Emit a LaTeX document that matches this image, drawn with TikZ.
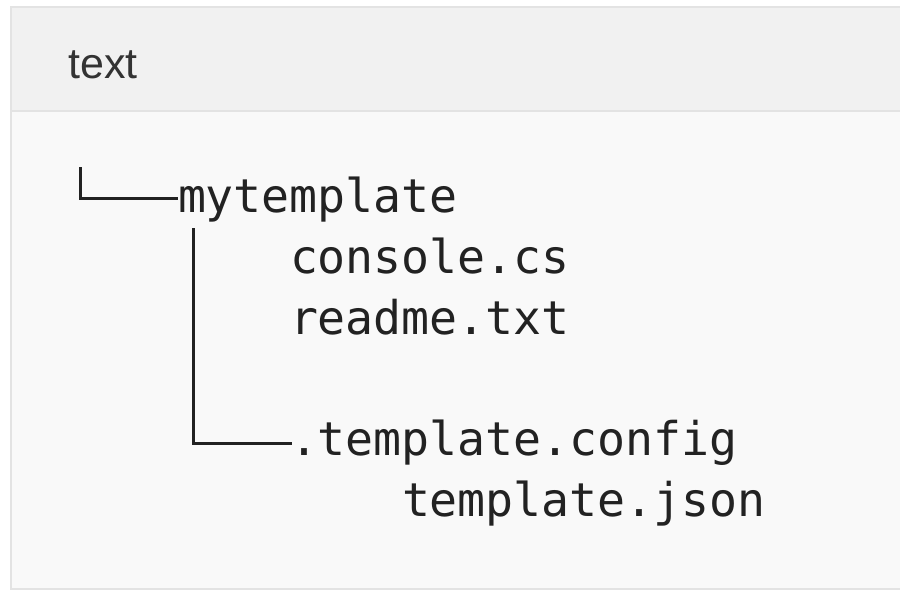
\documentclass[tikz,border=0pt]{standalone}
\usepackage{fontspec}
\setmainfont{Liberation Sans}
\newfontfamily\codefont{DejaVu Sans Mono}
\definecolor{headbg}{HTML}{F1F1F1}
\definecolor{bodybg}{HTML}{F9F9F9}
\definecolor{frame}{HTML}{E3E3E3}
\definecolor{ink}{HTML}{222222}
\definecolor{headink}{HTML}{333333}
\tikzset{
  entry/.style={anchor=base west, inner sep=0pt, outer sep=0pt, text=ink,
    font=\codefont\fontsize{46.5}{56}\selectfont},
  branch/.style={draw=ink, line width=3pt, line cap=butt, line join=miter},
}
\begin{document}
\begin{tikzpicture}[x=1pt,y=-1pt]
\useasboundingbox (0,0) rectangle (900,590);
\fill[white] (0,0) rectangle (900,590);
\begin{scope}
\clip (0,0) rectangle (900,590);
\fill[bodybg] (11,7) rectangle (910,589);
\fill[headbg] (11,7) rectangle (910,111);
\draw[frame, line width=1.5pt] (910,7) -- (11,7) -- (11,589) -- (910,589);
\draw[frame, line width=1.5pt] (11,111) -- (910,111);
\end{scope}
\node[anchor=base west, inner sep=0pt, text=headink,
  font=\fontsize{43}{50}\selectfont] (lang) at (68,78) {text};
% tree entries
\node[entry] (root) at (178,212) {mytemplate};
\node[entry] (console) at (290,273) {console.cs};
\node[entry] (readme) at (290,334) {readme.txt};
\node[entry] (config) at (290,455) {.template.config};
\node[entry] (json) at (402,516) {template.json};
% connectors
\coordinate (top) at (80,167);
\coordinate (rootcorner) at (80,198);
\coordinate (trunk) at (193,228);
\coordinate (subcorner) at (193,443);
\draw[branch] (top) -- (rootcorner) -- (root.west |- rootcorner);
\draw[branch] (trunk) -- (subcorner) -- ([xshift=2pt]config.west |- subcorner);
\end{tikzpicture}
\end{document}
